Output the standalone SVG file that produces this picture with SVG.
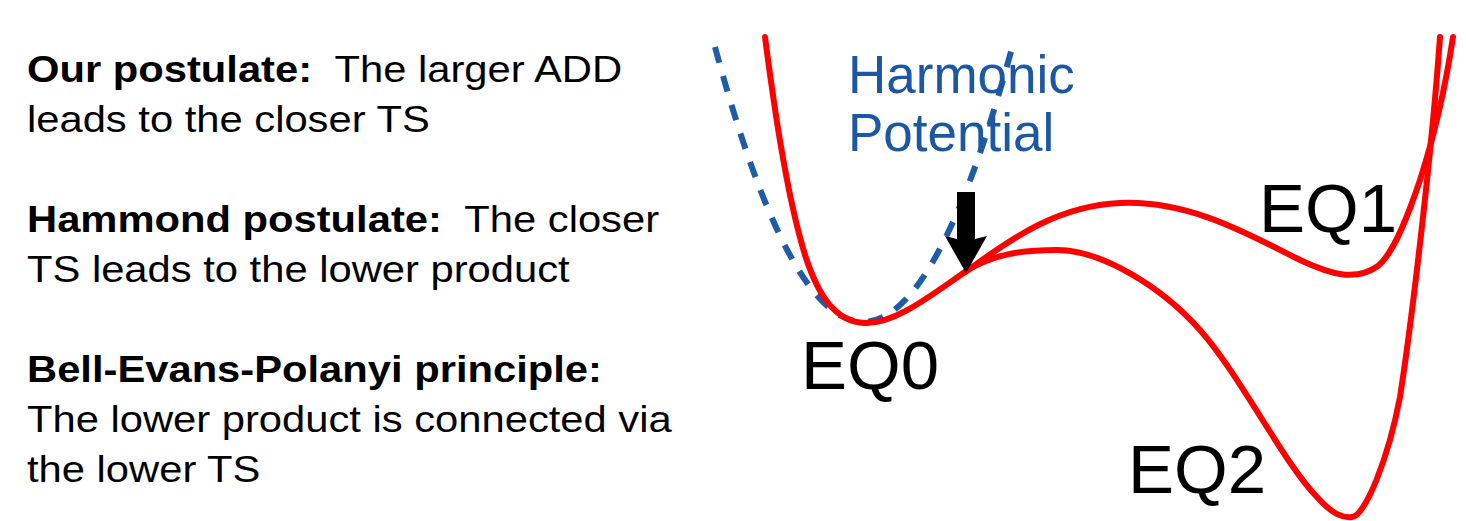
<svg xmlns="http://www.w3.org/2000/svg" width="1466" height="521" viewBox="0 0 1466 521">
<style>
.t{font-family:"Liberation Sans",Arial,sans-serif;font-size:37px;fill:#000;white-space:pre}
.b{font-weight:bold}
.eq{font-family:"Liberation Sans",Arial,sans-serif;font-size:69px;fill:#000}
.hp{font-family:"Liberation Sans",Arial,sans-serif;font-size:53px;fill:#1B57A4}
.red{fill:none;stroke:#FF0000;stroke-width:6;stroke-linecap:round;stroke-linejoin:round}
.harm{fill:none;stroke:#1F5CA6;stroke-width:6;stroke-dasharray:16 14}
</style>
<rect width="1466" height="521" fill="#fff"/>
<g id="text-left" transform="translate(27 0) scale(1.128 1)">
<text class="t" x="0" y="82" xml:space="preserve"><tspan class="b">Our postulate:</tspan>  The larger ADD</text>
<text class="t" x="0" y="132">leads to the closer TS</text>
<text class="t" x="0" y="232" xml:space="preserve"><tspan class="b">Hammond postulate:</tspan>  The closer</text>
<text class="t" x="0" y="282">TS leads to the lower product</text>
<text class="t b" x="0" y="382">Bell-Evans-Polanyi principle:</text>
<text class="t" x="0" y="432">The lower product is connected via</text>
<text class="t" x="0" y="482">the lower TS</text>
</g>
<g id="connectors">
<path id="harmonic" class="harm" d="M715,47 Q862.5,596.5 1012,48"/>
<path id="path-eq1" class="red" d="M765,37 C772,90 785,190 805,255 C818,295 835,322 865,323 C895,324 930,296 965,272 C1000,248 1050,206 1120,203 C1190,200 1250,235 1300,260 C1330,274 1355,282 1378,266 C1395,252 1410,210 1420,180 C1432,143 1445,90 1453,37"/>
<path id="path-eq2" class="red" d="M965,272 C990,255 1020,250 1057,250 C1100,250 1160,285 1200,330 C1240,375 1285,465 1317,497 C1333,515 1343,518 1352,517 C1365,516 1388,460 1400,397 C1412,320 1432,150 1440,37"/>
<polygon id="arrow" points="957,192 975,192 975,239 987,236 966,273 945,236 957,239" fill="#000"/>
</g>
<g id="label-harmonic">
<text class="hp" x="848" y="93">Harmonic</text>
<text class="hp" x="848" y="151">Potential</text>
</g>
<g id="node-eq0"><text class="eq" x="801" y="389">EQ0</text></g>
<g id="node-eq1"><text class="eq" x="1259" y="232">EQ1</text></g>
<g id="node-eq2"><text class="eq" x="1128" y="493">EQ2</text></g>
</svg>
